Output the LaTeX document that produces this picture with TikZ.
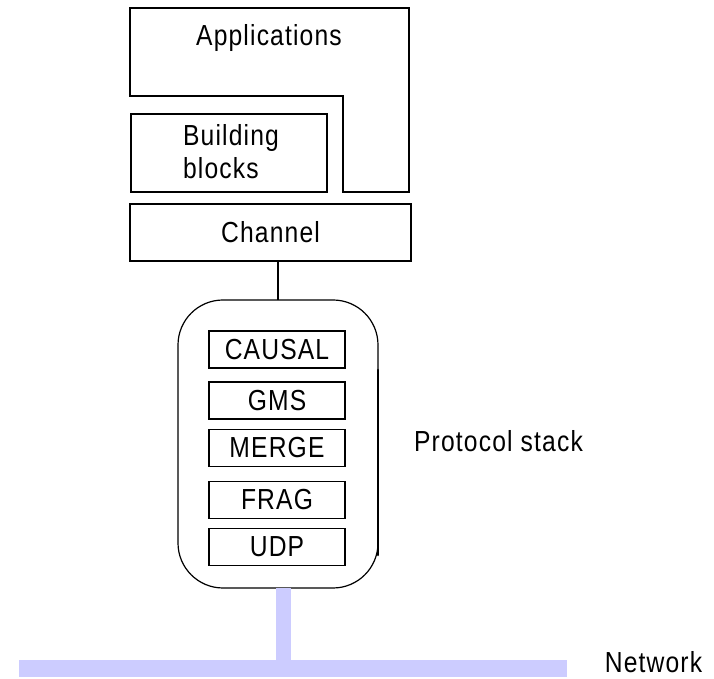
\documentclass[tikz,border=0pt]{standalone}
\usepackage{fontspec}
\setmainfont{Liberation Sans}[FakeStretch=0.85, LetterSpace=4]
\usetikzlibrary{calc}
\definecolor{netblue}{RGB}{204,204,255}
\tikzset{
  box/.style={draw, line width=1.2pt, inner sep=0pt, outer sep=0pt},
  layer/.style={box, minimum width=136pt, minimum height=37pt},
  net/.style={draw=netblue, line cap=butt}
}

\begin{document}
\begin{tikzpicture}[x=10pt, y=10pt, font=\fontsize{29}{33}\selectfont]
				\useasboundingbox (0,0) rectangle (71.4,67.9);
				
				% application layer wrapped round the building blocks
				\draw[line width=1.2pt] (13,67.1) -- (40.9,67.1) -- (40.9,48.7) -- (34.3,48.7) -- (34.3,58.3) -- (13,58.3) -- cycle;
				\node (apps) at (26.9,64.05) {Applications};
				
				\node[box, minimum width=196pt, minimum height=78pt] (blocks) at (22.9,52.6) {};
				\node[align=left, inner sep=0pt] (blockstext) at (23.1,52.75) {Building\\blocks};
				
				\node[box, minimum width=281pt, minimum height=57pt] (channel) at (27.05,44.65) {Channel};
				
				% the stack
				\node[box, rounded corners=45pt, minimum width=200pt, minimum height=288pt] (stack) at (27.8,23.5) {};
				\draw[line width=1.2pt] (stack.north) -- (stack.north |- channel.south);
				\draw[line width=2.6pt, line cap=round] ($(stack.east)+(0,7.4)$) -- ($(stack.east)+(0,-11.1)$);
				
				\node[layer] (causal) at (27.7,32.95) {CAUSAL};
				\node[layer] (gms) at (27.7,27.85) {GMS};
				\node[layer] (merge) at (27.7,23.1) {MERGE};
				\node[layer] (frag) at (27.7,17.9) {FRAG};
				\node[layer] (udp) at (27.7,13.2) {UDP};
				
				\node (stacktext) at (49.85,23.8) {Protocol stack};
				
				% network
				\coordinate (tap) at (28.35,9.1);
				\coordinate (busL) at (1.9,1.05);
				\coordinate (busR) at (56.7,1.05);
				\draw[net, line width=17pt] (busL) -- (busR);
				\draw[net, line width=15pt] (tap) -- (tap |- busL);
				\node (network) at (65.35,1.65) {Network};
			\end{tikzpicture}
\end{document}
